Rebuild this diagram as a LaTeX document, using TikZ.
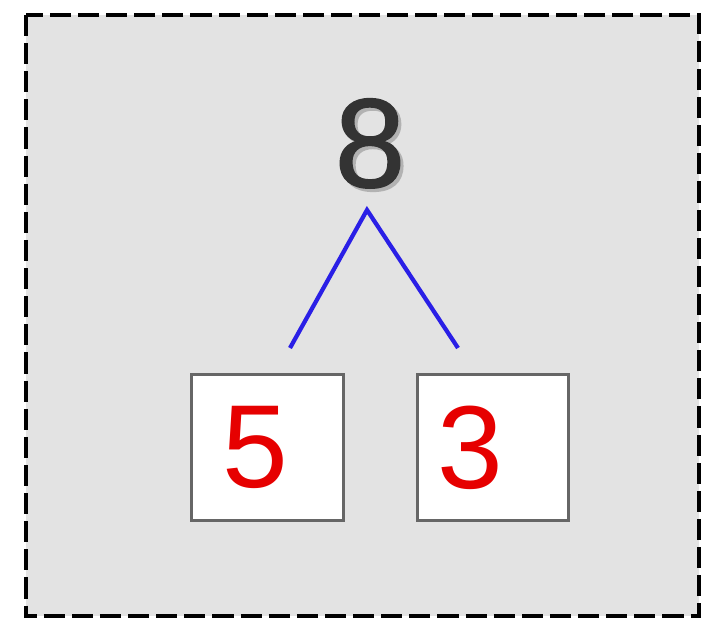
\documentclass[tikz,border=0pt]{standalone}
\usepackage{fontspec}
\setmainfont{Liberation Sans}
\newfontfamily\wholefont[FakeBold=1.2]{Liberation Sans}
\definecolor{panelgray}{HTML}{E3E3E3}
\definecolor{boxline}{HTML}{666666}
\definecolor{darktext}{HTML}{333333}
\definecolor{bondblue}{HTML}{2A1FE6}
\definecolor{partred}{HTML}{E60000}
\tikzset{
  partbox/.style={draw=boxline, line width=2.1pt, fill=white, minimum width=108pt, minimum height=104pt, inner sep=0pt},
  partnum/.style={text=partred, font=\fontsize{84}{90}\selectfont, inner sep=0pt},
  bond/.style={draw=bondblue, line width=3pt}
}
\begin{document}
\begin{tikzpicture}[x=0.025cm, y=0.025cm]
    \useasboundingbox (0,0) rectangle (702,622);
    \pgfmathsetmacro{\boxy}{174.5}
    % dashed panel
    \draw[fill=panelgray, line width=3.5pt, dash pattern=on 15pt off 5pt] (26,607) rectangle (699,6);
    % whole
    \node[font=\wholefont\fontsize{90}{96}\selectfont, inner sep=0pt] (whole) at (370,477)
      {\rlap{\hspace{2.2pt}\raisebox{-2.2pt}{\textcolor{black!30}{8}}}\textcolor{darktext}{8}};
    % parts
    \node[partbox] (leftbox) at (267.5,\boxy) {};
    \node[partbox] (rightbox) at (493,\boxy) {};
    \node[partnum] (leftpart) at (255,\boxy) {5};
    \node[partnum] (rightpart) at (470,\boxy) {3};
    % bonds
    \coordinate (apex) at (367,412);
    \coordinate (leftend) at (290,274);
    \coordinate (rightend) at (458,274);
    \draw[bond] (leftend) -- (apex) -- (rightend);
\end{tikzpicture}
\end{document}
